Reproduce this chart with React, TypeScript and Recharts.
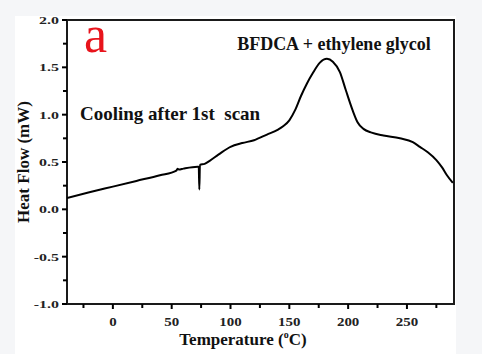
import React from "react";
import { LineChart, Line, XAxis, YAxis } from "recharts";

// temperature (°C) and heat flow (mW)
const temps = [
  -39, -20, 0, 20, 40, 54, 55, 56, 60, 72, 73, 73.5, 74, 78, 82, 90, 100, 110,
  120, 131, 140, 145, 150, 155, 160, 165, 170, 176, 182, 187, 193, 198, 204,
  208, 213, 220, 230, 244, 255, 261, 268, 275, 280, 284, 289,
];
const heatFlow = [
  0.12, 0.18, 0.24, 0.3, 0.36, 0.41, 0.43, 0.42, 0.43, 0.45, 0.45, 0.21, 0.47,
  0.48, 0.51, 0.58, 0.66, 0.7, 0.73, 0.79, 0.84, 0.88, 0.94, 1.05, 1.2, 1.33,
  1.44, 1.55, 1.59, 1.56, 1.45, 1.26, 1.04, 0.92, 0.85, 0.81, 0.78, 0.75, 0.71,
  0.66, 0.6, 0.52, 0.44, 0.36, 0.28,
];

const xDomain = [-39, 290];
const yDomain = [-1, 2];
const xMajor = [0, 50, 100, 150, 200, 250];
const xMinor = [-25, 25, 75, 125, 175, 225, 275];
const yMajor = [-1, -0.5, 0, 0.5, 1, 1.5, 2];
const yMinor = [-0.75, -0.25, 0.25, 0.75, 1.25, 1.75];

const xTitle = "Temperature (";
const yTitle = "Heat Flow (mW)";
const panelLetter = "a";
const sampleName = "BFDCA + ethylene glycol";
const runNote = "Cooling after 1st  scan";

const data = temps.map((t, i) => ({ t, hf: heatFlow[i] }));

const W = 482;
const H = 354;
const margin = { top: 20, right: 28, bottom: 0, left: 0 };
const yAxisW = 67;
const xAxisH = 50;

const font = "'Liberation Serif', 'Times New Roman', serif";
const ink = "#1a1a1a";

const XTick = (props: any) => {
  const { x, y, payload } = props;
  const major = xMajor.includes(payload.value);
  return (
    <g>
      <line x1={x} x2={x} y1={y} y2={y + (major ? 5 : 4)} stroke="#000" strokeWidth={2} />
      {major && (
        <text
          transform={`translate(${x},${y + 22}) scale(1.15,1)`}
          textAnchor="middle"
          fontFamily={font}
          fontWeight="bold"
          fontSize={13}
          fill="#222"
        >
          {payload.value}
        </text>
      )}
    </g>
  );
};

const YTick = (props: any) => {
  const { x, y, payload } = props;
  const major = yMajor.includes(payload.value);
  return (
    <g>
      <line x1={x - (major ? 5 : 4)} x2={x} y1={y} y2={y} stroke="#000" strokeWidth={2} />
      {major && (
        <text
          transform={`translate(${x - 8},${y + 4}) scale(1.45,1)`}
          textAnchor="end"
          fontFamily={font}
          fontWeight="bold"
          fontSize={11}
          fill="#222"
        >
          {payload.value.toFixed(1)}
        </text>
      )}
    </g>
  );
};

export default function App() {
  const plotL = margin.left + yAxisW;
  const plotT = margin.top;
  const plotR = W - margin.right;
  const plotB = H - margin.bottom - xAxisH;
  return (
    <div
      style={{
        position: "absolute",
        left: 0,
        top: 0,
        width: W,
        height: H,
        background: "#f5f6f8",
        overflow: "hidden",
      }}
    >
      <div
        style={{ position: "absolute", left: 15, top: 16, width: 441, height: 338, background: "#fff" }}
      />
      {/* box round the plot area */}
      <div
        style={{
          position: "absolute",
          left: plotL - 1,
          top: plotT - 1,
          width: plotR - plotL - 2,
          height: plotB - plotT - 2,
          border: `2px solid ${ink}`,
          zIndex: 1,
        }}
      />
      <div style={{ position: "absolute", left: 0, top: 0, zIndex: 2 }}>
        <LineChart width={W} height={H} data={data} margin={margin}>
          <XAxis
            dataKey="t"
            type="number"
            domain={xDomain}
            allowDataOverflow
            ticks={[...xMinor, ...xMajor].sort((a, b) => a - b)}
            interval={0}
            tickSize={0}
            tickMargin={0}
            tick={<XTick />}
            height={xAxisH}
            axisLine={false}
          />
          <YAxis
            type="number"
            domain={yDomain}
            ticks={[...yMinor, ...yMajor].sort((a, b) => a - b)}
            interval={0}
            tickSize={0}
            tickMargin={0}
            tick={<YTick />}
            width={yAxisW}
            axisLine={false}
          />
          <Line
            type="monotone"
            dataKey="hf"
            stroke="#000"
            strokeWidth={2}
            dot={false}
            isAnimationActive={false}
          />
        </LineChart>
      </div>
      <svg
        width={W}
        height={H}
        style={{ position: "absolute", left: 0, top: 0, zIndex: 3, pointerEvents: "none" }}
      >
        <text x={84} y={52} fontFamily={font} fontSize={52} fill="#e8141c">
          {panelLetter}
        </text>
        <text x={334} y={50} textAnchor="middle" fontFamily={font} fontWeight="bold" fontSize={18} fill="#111">
          {sampleName}
        </text>
        <text x={80} y={120} fontFamily={font} fontWeight="bold" fontSize={19} fill="#111" style={{ whiteSpace: "pre" }}>
          {runNote}
        </text>
        <text
          transform="translate(29,162) rotate(-90)"
          textAnchor="middle"
          fontFamily={font}
          fontWeight="bold"
          fontSize={17}
          fill="#111"
        >
          {yTitle}
        </text>
        <text x={243} y={345} textAnchor="middle" fontFamily={font} fontWeight="bold" fontSize={17} fill="#111">
          {xTitle}
          <tspan dy={-7} fontSize={10}>o</tspan>
          <tspan dy={7}>C)</tspan>
        </text>
      </svg>
    </div>
  );
}
